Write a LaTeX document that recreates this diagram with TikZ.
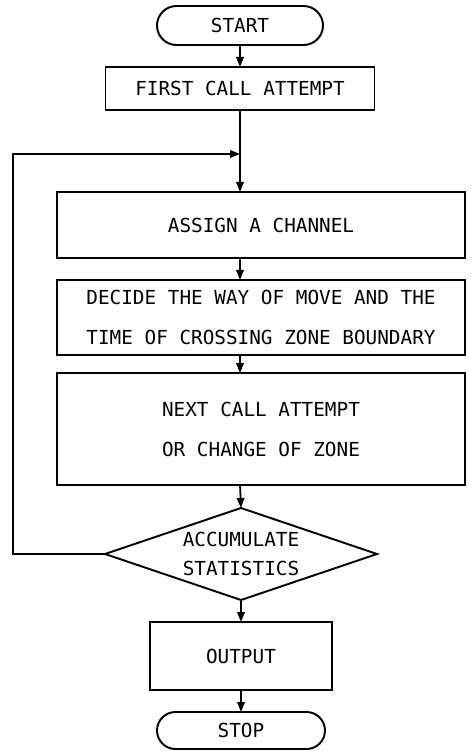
\documentclass[tikz,border=0pt]{standalone}
\usepackage{fontspec}
\setmonofont{DejaVu Sans Mono}
\usetikzlibrary{arrows.meta,positioning,shapes.geometric,shapes.misc}

\begin{document}
\begin{tikzpicture}[
node distance=4.4mm,
box/.style={draw,line width=1.1pt,align=center,inner sep=0pt,outer sep=0pt,
font=\ttfamily\fontsize{11}{22.8}\selectfont},
wide/.style={box,minimum width=81.6mm},
term/.style={box,rounded rectangle},
test/.style={box,diamond,aspect=2.96,
font=\ttfamily\fontsize{11}{16.5}\selectfont},
dep/.style={-{Triangle[length=2mm,width=1.5mm]},line width=1pt}
]
\useasboundingbox (-48mm,5.1mm) rectangle (46.4mm,-145.1mm);

\node[term,minimum width=33.2mm,minimum height=7.8mm] (start) {START};
\node[box,minimum width=53.8mm,minimum height=8.6mm,below=of start] (first) {FIRST CALL ATTEMPT};
\node[wide,minimum height=13.2mm,below=16.4mm of first,xshift=4.2mm] (assign) {ASSIGN A CHANNEL};
\node[wide,minimum height=15mm,below=of assign] (decide) {DECIDE THE WAY OF MOVE AND THE\\TIME OF CROSSING ZONE BOUNDARY};
\node[wide,minimum height=22.4mm,below=3.6mm of decide] (next) {NEXT CALL ATTEMPT\\OR CHANGE OF ZONE};
\node[test,minimum width=54.4mm,minimum height=18.4mm,below=4.6mm of next,xshift=-4mm] (stats) {ACCUMULATE\\STATISTICS};
\node[box,minimum width=36.4mm,minimum height=13.6mm,below=of stats] (out) {OUTPUT};
\node[term,minimum width=33.6mm,minimum height=7.4mm,below=of out] (stop) {STOP};

% the loop comes back in here
\coordinate[below=8.8mm of first.south] (join);

\draw[dep] (start) -- (first);
\draw[dep] (first) -- (first |- assign.north);
\draw[dep] (first |- assign.south) -- (first |- decide.north);
\draw[dep] (first |- decide.south) -- (first |- next.north);
\draw[dep] (first |- next.south) -- (stats.north);
\draw[dep] (stats) -- (out);
\draw[dep] (out) -- (stop);
\draw[dep] (stats.west) -- ++(-18.4mm,0) |- (join);
\end{tikzpicture}
\end{document}
